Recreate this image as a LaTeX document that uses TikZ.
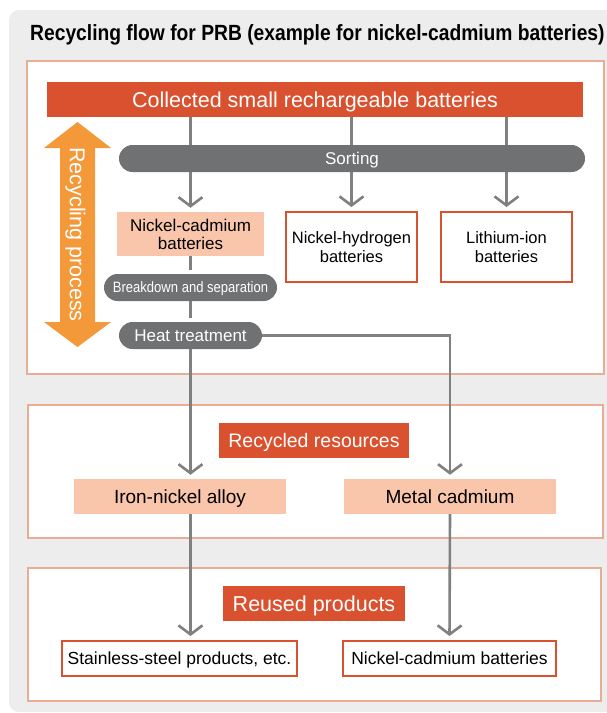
\documentclass[tikz,border=0pt]{standalone}
\usepackage{fontspec}
\setmainfont{Liberation Sans}
\usepackage{xcolor}
\usetikzlibrary{positioning, arrows.meta, shapes}

\definecolor{bggrey}{HTML}{EDEDED}
\definecolor{panelline}{HTML}{E9AD95}
\definecolor{mainred}{HTML}{D9512F}
\definecolor{peach}{HTML}{F9C5AB}
\definecolor{pillgrey}{HTML}{707173}
\definecolor{wiregrey}{HTML}{808080}
\definecolor{flowarrow}{HTML}{F4993A}

\pgfdeclarelayer{back}
\pgfdeclarelayer{wires}
\pgfsetlayers{back,wires,main}

% one line of text, cap height centred in the node
\tikzset{
    single_line/.code={%
        \pgfmathsetmacro\capht{0.72*#1}%
        \edef\next{\noexpand\tikzset{font=\noexpand\fontsize{#1}{#1}\noexpand\selectfont,
            text height=\capht pt, text depth=0pt}}%
        \next}
}

\begin{document}
\begin{tikzpicture}[
    x=1pt, y=-1pt,
    panel_style/.style={draw=panelline, line width=2pt, fill=white},
    head_style/.style={fill=mainred, text=white, inner sep=0pt, minimum height=35pt},
    pill_style/.style={fill=pillgrey, text=white, rounded corners=13.5pt, inner sep=0pt, minimum height=27pt},
    peach_style/.style={fill=peach, inner sep=0pt, align=center},
    box_style/.style={draw=mainred, line width=2pt, fill=white, inner sep=0pt, align=center},
    wire_style/.style={draw=wiregrey, line width=2.6pt, -{Straight Barb[length=9pt, width=24pt]}, shorten >=4pt}
]
    \useasboundingbox (0,0) rectangle (607,713);

    % Title
    \node[anchor=west, single_line=22, inner sep=0pt] (title) at (30,33)
        {\bfseries\scalebox{0.875}[1]{Recycling flow for PRB (example for nickel-cadmium batteries)}};

    % Recycling process arrow
    \fill[flowarrow] (77.5,122) -- (111,148) -- (95,148) -- (95,322) -- (111,322) -- (77.5,347)
        -- (44,322) -- (60,322) -- (60,148) -- (44,148) -- cycle;
    \node[rotate=-90, text=white, single_line=21.5] (process) at (77.5,234.5) {Recycling process};

    % Collection and sorting
    \node[head_style, minimum width=536pt, single_line=21.5] (collected) at (315,99.5) {Collected small rechargeable batteries};
    \node[pill_style, minimum width=466pt, single_line=17] (sorting) at (352,158.5) {Sorting};

    % Battery types
    \node[peach_style, minimum width=147pt, minimum height=44pt, font=\fontsize{17}{18}\selectfont] (nicd) at (190.5,234) {Nickel-cadmium\\batteries};
    \node[box_style, minimum width=131pt, minimum height=70pt, font=\fontsize{16.5}{19}\selectfont] (nimh) at (351.5,247) {Nickel-hydrogen\\batteries};
    \node[box_style, minimum width=131pt, minimum height=70pt, font=\fontsize{16.5}{19}\selectfont] (liion) at (506.5,247) {Lithium-ion\\batteries};

    % Treatment steps
    \node[pill_style, minimum width=173pt, single_line=15] (breakdown) at (190.5,287.5) {\scalebox{0.87}[1]{Breakdown and separation}};
    \node[pill_style, minimum width=143pt, single_line=17] (heat) at (190.5,335.5) {Heat treatment};

    % Recycled resources
    \node[head_style, minimum width=190pt, single_line=19.5] (resources) at (314,440.5) {Recycled resources};
    \node[peach_style, minimum width=212pt, minimum height=35pt, single_line=19] (alloy) at (180,496.5) {Iron-nickel alloy};
    \node[peach_style, minimum width=212pt, minimum height=35pt, single_line=19] (cadmium) at (450,496.5) {Metal cadmium};

    % Reused products
    \node[head_style, minimum width=182pt, single_line=21.5] (reused) at (314,603.5) {Reused products};
    \node[box_style, minimum width=235pt, minimum height=35pt, single_line=17.5] (steel) at (179.5,658.5) {Stainless-steel products, etc.};
    \node[box_style, minimum width=213pt, minimum height=35pt, single_line=17.5] (nicdnew) at (449.5,658.5) {Nickel-cadmium batteries};

    % Background and panels
    \begin{pgfonlayer}{back}
        \fill[bggrey, rounded corners=10pt] (9,10) rectangle (620,712);
        \draw[panel_style] (27,61) rectangle (604,374);
        \draw[panel_style] (28,405) rectangle (603,538);
        \draw[panel_style] (28,568) rectangle (601,701);
    \end{pgfonlayer}

    % Flow lines
    \begin{pgfonlayer}{wires}
        \draw[wire_style] (collected.south -| nicd.north) -- (nicd.north);
        \draw[wire_style] (collected.south -| nimh.north) -- (nimh.north);
        \draw[wire_style] (collected.south -| liion.north) -- (liion.north);
        \draw[wire_style, -] (nicd.south) -- (breakdown.north);
        \draw[wire_style, -] (breakdown.south) -- (heat.north);
        \draw[wire_style] (heat.south) -- (heat.south |- alloy.north);
        \draw[wire_style] (heat.east) -| (cadmium.north);
        \draw[wire_style] (heat.south |- alloy.south) -- (heat.south |- steel.north);
        \draw[wire_style] (cadmium.south) -- (nicdnew.north);
    \end{pgfonlayer}
\end{tikzpicture}
\end{document}
